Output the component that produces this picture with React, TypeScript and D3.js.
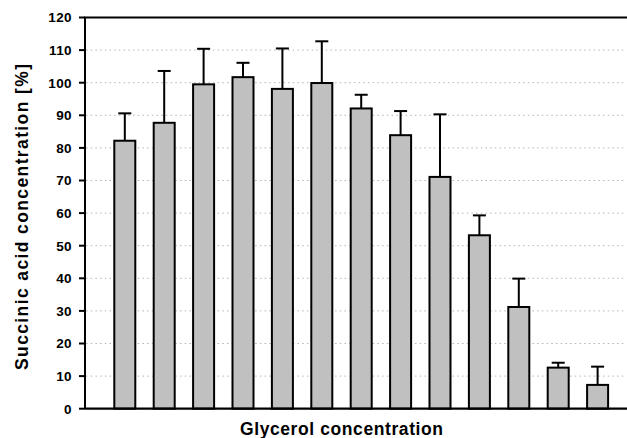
import { useEffect, useRef } from 'react';
import * as d3 from 'd3';

// glycerol concentration steps (no tick labels shown on the original)
const categories = ['c1', 'c2', 'c3', 'c4', 'c5', 'c6', 'c7', 'c8', 'c9', 'c10', 'c11', 'c12', 'c13'];
// succinic acid concentration [%]
const values = [82.2, 87.7, 99.5, 101.7, 98.1, 99.9, 92.1, 83.9, 71.1, 53.2, 31.2, 12.6, 7.3];
// upper error (standard deviation)
const errors = [8.4, 15.9, 10.9, 4.4, 12.4, 12.8, 4.2, 7.4, 19.2, 6.1, 8.7, 1.5, 5.6];
const yTicks = [0, 10, 20, 30, 40, 50, 60, 70, 80, 90, 100, 110, 120];

const W = 627;
const H = 438;

export default function App() {
  const svgRef = useRef<SVGSVGElement | null>(null);

  useEffect(() => {
    if (!svgRef.current) return;
    document.body.style.margin = '0';

    const svg = d3.select(svgRef.current);
    svg.selectAll('*').remove();

    const font = '"Liberation Sans", Arial, Helvetica, sans-serif';
    const left = 85;
    const top = 17.5;
    const bottom = 408.7;

    const y = d3.scaleLinear().domain([0, 120]).range([bottom, top]);

    const x = d3.scaleBand()
      .domain(categories)
      .range([105.1, 617.3])
      .paddingInner(0.467)
      .paddingOuter(0.2335);

    // dotted gridlines
    svg.append('g')
      .selectAll('line')
      .data(yTicks.filter(t => t > 0 && t < 120))
      .enter()
      .append('line')
      .attr('x1', left + 1)
      .attr('x2', 624)
      .attr('y1', d => y(d))
      .attr('y2', d => y(d))
      .attr('stroke', '#b4b4b4')
      .attr('stroke-width', 1)
      .attr('stroke-dasharray', '1.5 3.2');

    // error bars (upper only)
    const err = svg.append('g')
      .attr('stroke', '#000')
      .attr('stroke-width', 2);

    categories.forEach((c, i) => {
      const cx = (x(c) as number) + x.bandwidth() / 2;
      const yTop = y(values[i] + errors[i]);
      err.append('line')
        .attr('x1', cx).attr('x2', cx)
        .attr('y1', y(values[i])).attr('y2', yTop);
      err.append('line')
        .attr('x1', cx - 6.5).attr('x2', cx + 6.5)
        .attr('y1', yTop).attr('y2', yTop);
    });

    // bars
    svg.append('g')
      .selectAll('rect')
      .data(values)
      .enter()
      .append('rect')
      .attr('x', (d, i) => x(categories[i]) as number)
      .attr('y', d => y(d))
      .attr('width', x.bandwidth())
      .attr('height', d => bottom - y(d))
      .attr('fill', '#c0c0c0')
      .attr('stroke', '#000')
      .attr('stroke-width', 2);

    // frame: y axis, top border, x axis
    svg.append('line')
      .attr('x1', left).attr('x2', left)
      .attr('y1', top).attr('y2', bottom)
      .attr('stroke', '#000').attr('stroke-width', 2);
    svg.append('line')
      .attr('x1', left - 1).attr('x2', W)
      .attr('y1', top).attr('y2', top)
      .attr('stroke', '#000').attr('stroke-width', 2.2);
    svg.append('line')
      .attr('x1', left).attr('x2', W)
      .attr('y1', bottom).attr('y2', bottom)
      .attr('stroke', '#000').attr('stroke-width', 2.2);

    // y ticks and labels
    const ticks = svg.append('g');
    ticks.selectAll('line')
      .data(yTicks)
      .enter()
      .append('line')
      .attr('x1', left - 6)
      .attr('x2', left)
      .attr('y1', d => y(d))
      .attr('y2', d => y(d))
      .attr('stroke', '#000')
      .attr('stroke-width', 2);

    ticks.selectAll('text')
      .data(yTicks)
      .enter()
      .append('text')
      .attr('x', 72)
      .attr('y', d => y(d))
      .attr('dy', '0.36em')
      .attr('text-anchor', 'end')
      .style('font-family', font)
      .style('font-weight', 'bold')
      .style('font-size', '13.5px')
      .style('letter-spacing', '0.4px')
      .text(d => d);

    // axis titles
    svg.append('text')
      .attr('transform', 'translate(28, 217) rotate(-90)')
      .attr('text-anchor', 'middle')
      .attr('textLength', 306)
      .attr('lengthAdjust', 'spacing')
      .style('font-family', font)
      .style('font-weight', 'bold')
      .style('font-size', '17.5px')
      .text('Succinic acid concentration [%]');

    svg.append('text')
      .attr('x', 341.5)
      .attr('y', 435)
      .attr('text-anchor', 'middle')
      .attr('textLength', 203)
      .attr('lengthAdjust', 'spacing')
      .style('font-family', font)
      .style('font-weight', 'bold')
      .style('font-size', '17.5px')
      .text('Glycerol concentration');
  }, []);

  return (
    <svg
      ref={svgRef}
      width={W}
      height={H}
      style={{ position: 'absolute', left: 0, top: 0, background: '#fff' }}
    />
  );
}
